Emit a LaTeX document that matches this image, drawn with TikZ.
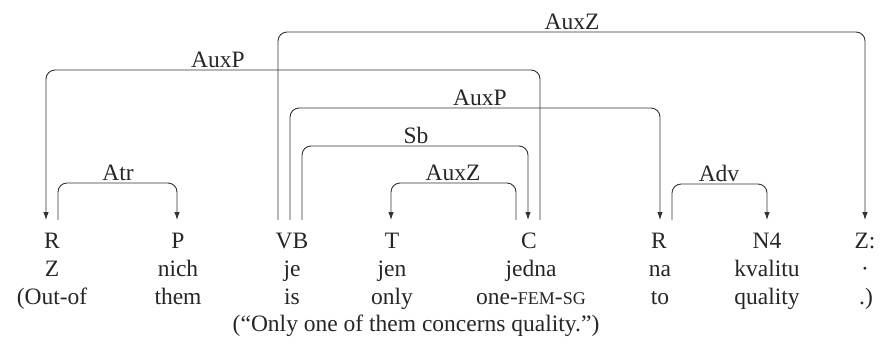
\documentclass[tikz,border=0pt]{standalone}
\usepackage{fontspec}
\setmainfont{Liberation Serif}
\usetikzlibrary{arrows.meta}
\tikzset{
  dep/.style={draw=black!80, line width=0.9pt, rounded corners=9pt},
  deparr/.style={dep, -{Latex[length=8pt,width=5.5pt]}},
  lab/.style={anchor=base, inner sep=0pt, font=\fontsize{23.5}{28}\selectfont, text=black!85},
  tok/.style={anchor=base, inner sep=0pt, font=\fontsize{23.5}{28}\selectfont, text=black!85},
}
\newcommand{\smcap}[1]{{\fontsize{18}{20}\selectfont #1}}
\begin{document}
\begin{tikzpicture}[x=1pt,y=-1pt]
\useasboundingbox (0,0) rectangle (880,354);
% tag row
\node[tok] (t1) at (52,248) {R};
\node[tok] (t2) at (178,248) {P};
\node[tok] (t3) at (292,248) {VB};
\node[tok] (t4) at (392,248) {T};
\node[tok] (t5) at (529,248) {C};
\node[tok] (t6) at (659,248) {R};
\node[tok] (t7) at (767,248) {N4};
\node[tok] (t8) at (865,248) {Z:};
% word row
\node[tok] (w1) at (52,276) {Z};
\node[tok] (w2) at (178,276) {nich};
\node[tok] (w3) at (292,276) {je};
\node[tok] (w4) at (392,276) {jen};
\node[tok] (w5) at (531,276) {jedna};
\node[tok] (w6) at (660,276) {na};
\node[tok] (w7) at (767,276) {kvalitu};
\node[tok] (w8) at (865,276) {·};
% gloss row
\node[tok] (g1) at (52,304) {(Out-of};
\node[tok] (g2) at (178,304) {them};
\node[tok] (g3) at (292,304) {is};
\node[tok] (g4) at (392,304) {only};
\node[tok] (g5) at (531,304) {one-\smcap{FEM}-\smcap{SG}};
\node[tok] (g6) at (660,304) {to};
\node[tok] (g7) at (767,304) {quality};
\node[tok] (g8) at (866,304) {.)};
% translation
\node[tok] (tr) at (416,331) {(“Only one of them concerns quality.”)};
% ports
\coordinate (pR1a) at (46,220);
\coordinate (pR1b) at (58,220);
\coordinate (pP) at (177,220);
\coordinate (pVBa) at (278,220);
\coordinate (pVBb) at (290,220);
\coordinate (pVBc) at (302,220);
\coordinate (pT) at (391,220);
\coordinate (pCa) at (516,220);
\coordinate (pCb) at (528,220);
\coordinate (pCc) at (540,220);
\coordinate (pR2a) at (660,220);
\coordinate (pR2b) at (672,220);
\coordinate (pN4) at (767,220);
\coordinate (pZ) at (865,220);
% arc heights
\coordinate (hAuxZa) at (572,32);
\coordinate (hAuxPa) at (218,70);
\coordinate (hAuxPb) at (480,108);
\coordinate (hSb) at (416,146);
\coordinate (hAuxZb) at (453,183);
\coordinate (hAtr) at (118,183);
\coordinate (hAdv) at (719,184);
% arcs
\draw[deparr] (pVBa) |- (hAuxZa) -| (pZ);
\draw[deparr] (pCc) |- (hAuxPa) -| (pR1a);
\draw[deparr] (pVBb) |- (hAuxPb) -| (pR2a);
\draw[deparr] (pVBc) |- (hSb) -| (pCb);
\draw[deparr] (pCa) |- (hAuxZb) -| (pT);
\draw[deparr] (pR1b) |- (hAtr) -| (pP);
\draw[deparr] (pR2b) |- (hAdv) -| (pN4);
% labels
\node[lab] (lAuxZa) at ([yshift=3pt]hAuxZa) {AuxZ};
\node[lab] (lAuxPa) at ([yshift=3pt]hAuxPa) {AuxP};
\node[lab] (lAuxPb) at ([yshift=3pt]hAuxPb) {AuxP};
\node[lab] (lSb) at ([yshift=3pt]hSb) {Sb};
\node[lab] (lAuxZb) at ([yshift=3pt]hAuxZb) {AuxZ};
\node[lab] (lAtr) at ([yshift=3pt]hAtr) {Atr};
\node[lab] (lAdv) at ([yshift=3pt]hAdv) {Adv};
\end{tikzpicture}
\end{document}
